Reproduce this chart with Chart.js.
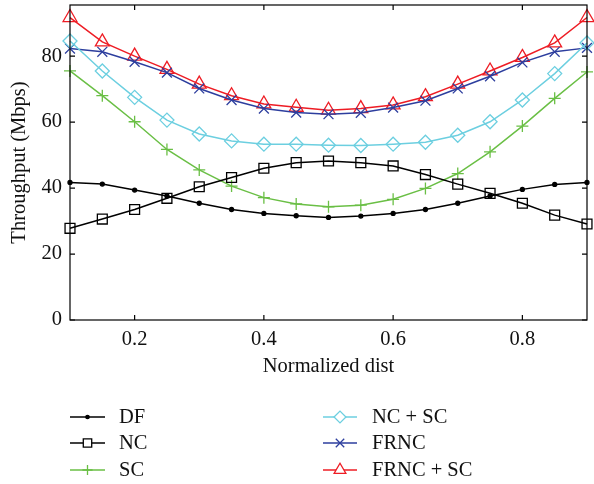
<!DOCTYPE html>
<html>
<head>
<meta charset="utf-8">
<script src="https://cdn.jsdelivr.net/npm/chart.js@4/dist/chart.umd.min.js"></script>
<style>
  html, body { margin: 0; padding: 0; background: #fff; }
  #wrap { width: 594px; height: 484px; }
</style>
</head>
<body>
<div id="wrap"><canvas id="chart" width="594" height="484"></canvas></div>
<script>
const dist = [0.1, 0.15, 0.2, 0.25, 0.3, 0.35, 0.4, 0.45, 0.5, 0.55, 0.6, 0.65, 0.7, 0.75, 0.8, 0.85, 0.9];

const dfData     = [41.7, 41.2, 39.4, 37.6, 35.4, 33.5, 32.3, 31.6, 31.1, 31.5, 32.3, 33.5, 35.4, 37.6, 39.6, 41.1, 41.7];
const ncData     = [27.8, 30.6, 33.5, 36.9, 40.4, 43.2, 46.0, 47.7, 48.2, 47.7, 46.7, 44.1, 41.2, 38.4, 35.4, 31.8, 29.1];
const scData     = [75.5, 68.0, 60.1, 51.7, 45.5, 40.6, 37.1, 35.2, 34.3, 34.8, 36.6, 39.9, 44.4, 51.0, 58.8, 67.2, 75.2];
const ncScData   = [84.6, 75.5, 67.5, 60.6, 56.4, 54.3, 53.3, 53.3, 53.0, 52.9, 53.3, 53.9, 56.0, 60.1, 66.7, 74.7, 84.0];
const frncData   = [82.3, 81.3, 78.3, 75.0, 70.2, 66.7, 64.1, 62.9, 62.4, 62.8, 64.4, 66.5, 70.2, 73.9, 78.1, 81.3, 82.5];
const frncScData = [91.7, 84.3, 80.0, 76.0, 71.5, 68.0, 65.5, 64.5, 63.6, 64.1, 65.2, 67.7, 71.5, 75.5, 79.6, 84.0, 91.7];

const xTicks = [0.2, 0.4, 0.6, 0.8];
const yTicks = [0, 20, 40, 60, 80];

const FONT = "'Liberation Serif', 'DejaVu Serif', serif";
const FSIZE = 20.5;

const seriesStyle = [
    { label: "DF",        data: dfData,     color: "#000000", point: "circle",    radius: 2, fill: true },
    { label: "NC",        data: ncData,     color: "#000000", point: "rect",      radius: 7 },
    { label: "SC",        data: scData,     color: "#6abf45", point: "cross",     radius: 6 },
    { label: "NC + SC",   data: ncScData,   color: "#6ccfe0", point: "rectRot",   radius: 7 },
    { label: "FRNC",      data: frncData,   color: "#2d3e9e", point: "crossRot",  radius: 7 },
    { label: "FRNC + SC", data: frncScData, color: "#ee1c24", point: "triangle",  radius: 8 }
];

const datasets = seriesStyle.map(s => ({
    label: s.label,
    data: dist.map((x, i) => ({ x: x, y: s.data[i] })),
    borderColor: s.color,
    backgroundColor: s.fill ? s.color : "rgba(255,255,255,0)",
    borderWidth: 1.5,
    pointStyle: s.point,
    pointRadius: s.radius,
    pointBorderWidth: 1.3,
    pointBorderColor: s.color,
    pointBackgroundColor: s.fill ? s.color : "rgba(255,255,255,0)",
    tension: 0,
    clip: false
}));

// frame with inward ticks + legend below the plot
const framePlugin = {
    id: "frame",
    afterDraw(chart) {
        const ctx = chart.ctx;
        const a = chart.chartArea;
        const xs = chart.scales.x, ys = chart.scales.y;
        ctx.save();
        ctx.strokeStyle = "#000";
        ctx.lineWidth = 1.2;
        ctx.strokeRect(a.left, a.top, a.right - a.left, a.bottom - a.top);
        ctx.beginPath();
        const t = 5;
        xTicks.forEach(v => {
            const px = xs.getPixelForValue(v);
            ctx.moveTo(px, a.bottom); ctx.lineTo(px, a.bottom - t);
            ctx.moveTo(px, a.top); ctx.lineTo(px, a.top + t);
        });
        yTicks.forEach(v => {
            const py = ys.getPixelForValue(v);
            ctx.moveTo(a.left, py); ctx.lineTo(a.left + t, py);
            ctx.moveTo(a.right, py); ctx.lineTo(a.right - t, py);
        });
        ctx.stroke();

        // legend
        const cols = [{ x0: 70, x1: 105, tx: 119 }, { x0: 323, x1: 357, tx: 372 }];
        const rows = [417, 443, 470];
        ctx.font = FSIZE + "px " + FONT;
        ctx.textBaseline = "middle";
        ctx.textAlign = "left";
        seriesStyle.forEach((s, i) => {
            const c = cols[Math.floor(i / 3)];
            const y = rows[i % 3];
            ctx.strokeStyle = s.color;
            ctx.lineWidth = 1.5;
            ctx.beginPath();
            ctx.moveTo(c.x0, y); ctx.lineTo(c.x1, y);
            ctx.stroke();
            ctx.fillStyle = s.fill ? s.color : "#fff";
            ctx.lineWidth = 1.3;
            Chart.helpers.drawPoint(ctx, { pointStyle: s.point, radius: s.radius * 0.85, borderWidth: 1.3, rotation: 0 },
                (c.x0 + c.x1) / 2, y);
            ctx.fillStyle = "#111";
            ctx.fillText(s.label, c.tx, y + 1);
        });
        ctx.restore();
    }
};

const ctx = document.getElementById("chart").getContext("2d");
new Chart(ctx, {
    type: "line",
    data: { datasets: datasets },
    plugins: [framePlugin],
    options: {
        responsive: false,
        animation: false,
        layout: { autoPadding: false, padding: { top: 5, right: 7, bottom: 100, left: 0 } },
        plugins: {
            legend: { display: false },
            tooltip: { enabled: false }
        },
        scales: {
            x: {
                type: "linear",
                min: 0.1,
                max: 0.9,
                afterBuildTicks: scale => { scale.ticks = xTicks.map(v => ({ value: v })); },
                afterFit: scale => { scale.height = 64; scale.paddingLeft = 0; scale.paddingRight = 0; },
                border: { display: false },
                grid: { display: false, drawTicks: false },
                ticks: {
                    padding: 7,
                    color: "#111",
                    font: { family: FONT, size: FSIZE },
                    callback: v => String(v)
                },
                title: {
                    display: true,
                    text: "Normalized dist",
                    color: "#111",
                    font: { family: FONT, size: FSIZE },
                    padding: { top: 0, bottom: 5 }
                }
            },
            y: {
                min: 0,
                max: 95.5,
                afterBuildTicks: scale => { scale.ticks = yTicks.map(v => ({ value: v })); },
                afterFit: scale => { scale.width = 70; scale.paddingTop = 0; scale.paddingBottom = 0; },
                border: { display: false },
                grid: { display: false, drawTicks: false },
                ticks: {
                    padding: 8,
                    color: "#111",
                    font: { family: FONT, size: FSIZE }
                },
                title: {
                    display: true,
                    text: "Throughput (Mbps)",
                    color: "#111",
                    font: { family: FONT, size: FSIZE },
                    padding: { top: 7, bottom: 0 }
                }
            }
        }
    }
});
</script>
</body>
</html>
